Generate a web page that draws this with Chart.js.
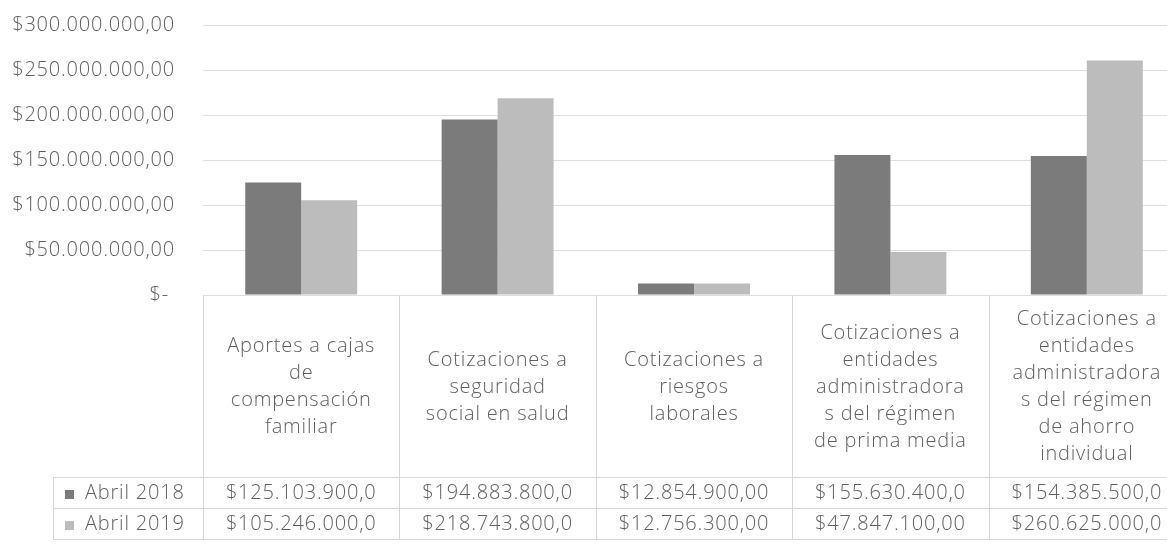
<!DOCTYPE html>
<html>
<head>
<meta charset="utf-8">
<script src="https://cdn.jsdelivr.net/npm/chart.js@4/dist/chart.umd.min.js"></script>
<style>
  html, body { margin: 0; padding: 0; background: #fff; overflow: hidden; }
  #wrap { width: 1190px; height: 546px; }
</style>
</head>
<body>
<div id="wrap"><canvas id="aportesChart" width="1190" height="546"></canvas></div>
<script>
// categorias (ya partidas en lineas como en la tabla original)
const categorias = [
    ['Aportes a cajas', 'de', 'compensación', 'familiar'],
    ['Cotizaciones a', 'seguridad', 'social en salud'],
    ['Cotizaciones a', 'riesgos', 'laborales'],
    ['Cotizaciones a', 'entidades', 'administradora', 's del régimen', 'de prima media'],
    ['Cotizaciones a', 'entidades', 'administradora', 's del régimen', 'de ahorro', 'individual']
];
const series = ['Abril 2018', 'Abril 2019'];
const abril2018 = [125103900, 194883800, 12854900, 155630400, 154385500];
const abril2019 = [105246000, 218743800, 12756300, 47847100, 260625000];
const yMax = 300000000;
const yStep = 50000000;

const colores = ['#7b7b7b', '#bcbcbc'];
const textoGris = '#606060';
const lineaGris = '#d6d6d6';
const fuente = '"Open Sans", sans-serif';

// formato moneda: $125.103.900,00
function pesos(v) {
    const partes = v.toFixed(2).split('.');
    return '$' + partes[0].replace(/\B(?=(\d{3})+(?!\d))/g, '.') + ',' + partes[1];
}

const espaciado = {
    id: 'espaciado',
    beforeLayout(chart) { chart.ctx.letterSpacing = '0.8px'; },
    beforeDraw(chart) { chart.ctx.letterSpacing = '0.8px'; }
};

// tabla de datos debajo del grafico
const tablaDatos = {
    id: 'tablaDatos',
    afterDraw(chart) {
        const ctx = chart.ctx;
        const x = chart.scales.x;
        const area = chart.chartArea;
        const anchoCat = x.getPixelForValue(1) - x.getPixelForValue(0);
        const finEncabezado = area.bottom + 182;
        const altoFila = 31;
        const finTabla = finEncabezado + altoFila * series.length;
        const izq = 53;

        ctx.save();
        ctx.letterSpacing = '0.8px';
        ctx.strokeStyle = lineaGris;
        ctx.lineWidth = 1;
        ctx.beginPath();
        for (let i = 0; i <= categorias.length; i++) {
            const xb = Math.round(x.getPixelForValue(i) - anchoCat / 2) + 0.5;
            ctx.moveTo(xb, area.bottom);
            ctx.lineTo(xb, finTabla);
        }
        ctx.moveTo(izq + 0.5, finEncabezado);
        ctx.lineTo(izq + 0.5, finTabla);
        for (let r = 0; r <= series.length; r++) {
            const yb = finEncabezado + r * altoFila + 0.5;
            ctx.moveTo(izq, yb);
            ctx.lineTo(area.right, yb);
        }
        ctx.stroke();

        ctx.fillStyle = textoGris;
        ctx.font = '300 20px ' + fuente;
        ctx.textAlign = 'center';
        ctx.textBaseline = 'middle';
        const altoLinea = 27;
        const centroEnc = (area.bottom + finEncabezado) / 2 + 1;
        categorias.forEach((lineas, i) => {
            const cx = x.getPixelForValue(i);
            const y0 = centroEnc - (lineas.length - 1) * altoLinea / 2;
            lineas.forEach((t, k) => ctx.fillText(t, cx, y0 + k * altoLinea));
        });

        const filas = [abril2018, abril2019];
        filas.forEach((valores, r) => {
            const cy = finEncabezado + r * altoFila + altoFila / 2 + 1;
            ctx.fillStyle = colores[r];
            ctx.fillRect(65, Math.round(cy - 4), 9, 9);
            ctx.fillStyle = textoGris;
            ctx.textAlign = 'left';
            ctx.fillText(series[r], 85, cy);
            ctx.textAlign = 'center';
            valores.forEach((v, i) => {
                // Excel corta el texto al ancho de la celda
                ctx.fillText(pesos(v).slice(0, 14), x.getPixelForValue(i), cy);
            });
        });
        ctx.restore();
    }
};

const ctx = document.getElementById('aportesChart').getContext('2d');
const aportesChart = new Chart(ctx, {
    type: 'bar',
    data: {
        labels: categorias,
        datasets: [{
            label: series[0],
            data: abril2018,
            backgroundColor: colores[0],
            categoryPercentage: 0.57,
            barPercentage: 1.0
        }, {
            label: series[1],
            data: abril2019,
            backgroundColor: colores[1],
            categoryPercentage: 0.57,
            barPercentage: 1.0
        }]
    },
    options: {
        responsive: false,
        animation: false,
        layout: {
            padding: { top: 25, bottom: 251, left: 0, right: 5 }
        },
        plugins: {
            legend: { display: false },
            tooltip: { enabled: false }
        },
        scales: {
            x: { display: false },
            y: {
                min: 0,
                max: yMax,
                border: { display: false },
                grid: { color: '#dedede', drawTicks: false },
                ticks: {
                    stepSize: yStep,
                    padding: 28,
                    color: textoGris,
                    font: { family: fuente, size: 20, weight: 300 },
                    callback: function(value) {
                        return value === 0 ? '$- ' : pesos(value);
                    }
                },
                afterFit: function(scale) {
                    scale.width = 203;
                    scale.paddingTop = 0;
                    scale.paddingBottom = 0;
                }
            }
        }
    },
    plugins: [espaciado, tablaDatos]
});
</script>
</body>
</html>
